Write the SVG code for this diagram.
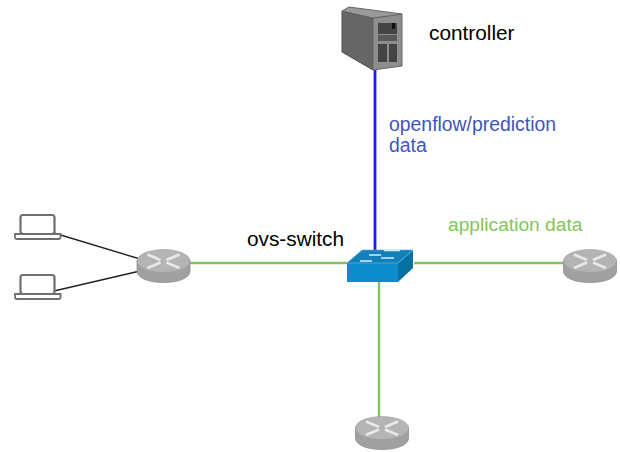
<svg xmlns="http://www.w3.org/2000/svg" width="620" height="452" viewBox="0 0 620 452">
<style>
text{font-family:"Liberation Sans",Arial,sans-serif;font-size:20.800px}
.b{fill:#3f55bd;font-size:19.400px}
.a{fill:#82c65a;font-size:19.200px}
.g{stroke:#82c65a;stroke-width:2.400;fill:none}
.k{stroke:#222;stroke-width:1.400;fill:none}
.rb{fill:#a0a0a0;stroke:#8f8f8f;stroke-width:.8}
.rt{fill:#b4b4b4;stroke:#a0a0a0;stroke-width:.6}
.ra{stroke:#e8e8e8;stroke-width:2.800;fill:none}
.lp{fill:#fff;stroke:#6f6f6f;stroke-width:2.200}
.lb{fill:#fff;stroke:#6f6f6f;stroke-width:1.800}
</style>
<defs>
<g id="router">
<path class="rb" d="M-26.500 -6V5C-26.500 12 -15 16.500 0 16.500S26.500 12 26.500 5V-6Z"/>
<ellipse class="rt" cx="0" cy="-5" rx="26.500" ry="11.500"/>
<path class="ra" d="M-16 -11.500L-3 -6M-16 2L-3 -3.500M16 -11.500L3 -6M16 2L3 -3.500"/>
</g>
<g id="laptop">
<rect class="lp" x="-17" y="-12" width="34" height="19" rx="2.500"/>
<path class="lb" d="M-22.500 7H23V10Q23 12 21 12H-20.500Q-22.500 12 -22.500 10Z"/>
</g>
</defs>
<g id="connectors">
<path class="k" d="M54 233L140 259M54 291L140 271"/>
<path class="g" d="M188 263H347M414 263H565M379 282V418"/>
<path d="M375 70V250" stroke="#1c1cf0" stroke-width="2.800" fill="none"/>
</g>
<g id="laptop1"><use href="#laptop" x="37.500" y="227"/></g>
<g id="laptop2"><use href="#laptop" x="37.500" y="287"/></g>
<g id="router-left"><use href="#router" x="163.500" y="266"/></g>
<g id="router-right"><use href="#router" x="590" y="266"/></g>
<g id="router-bottom"><use href="#router" x="382" y="433"/></g>
<g id="switch">
<path fill="#0c8cca" d="M347 263H398V282H347Z"/>
<path fill="#0670a3" d="M398 263L413 250V268L398 282Z"/>
<path fill="#127fb8" stroke="#5cb6e0" stroke-width=".7" d="M347 263L362 250H413L398 263Z"/>
<path stroke="#d5eef8" stroke-width="1.500" fill="none" d="M360 261H372M369 255H381M384 250.500H400M381 258H394"/>
</g>
<g id="controller">
<path fill="#666" stroke="#4d4d4d" d="M342 11L373 18V70L342 52Z"/>
<path fill="#8e8e8e" stroke="#666" d="M373 18L402 14V66L373 70Z"/>
<path fill="#9a9a9a" stroke="#666" d="M342 11L349 7L402 14L373 18Z"/>
<path fill="#444" d="M378 23H397V34H378ZM378 44H387V62H378ZM389 44H397V62H389Z"/>
<path fill="#585858" d="M378 35H397V41H378Z"/>
<path fill="#111" d="M392 23H395V29H392Z"/>
</g>
<g id="labels">
<text x="429" y="40">controller</text>
<text x="247" y="246">ovs-switch</text>
<text class="b" x="389" y="131">openflow/prediction</text>
<text class="b" x="389" y="152">data</text>
<text class="a" x="448" y="231">application data</text>
</g>
</svg>
